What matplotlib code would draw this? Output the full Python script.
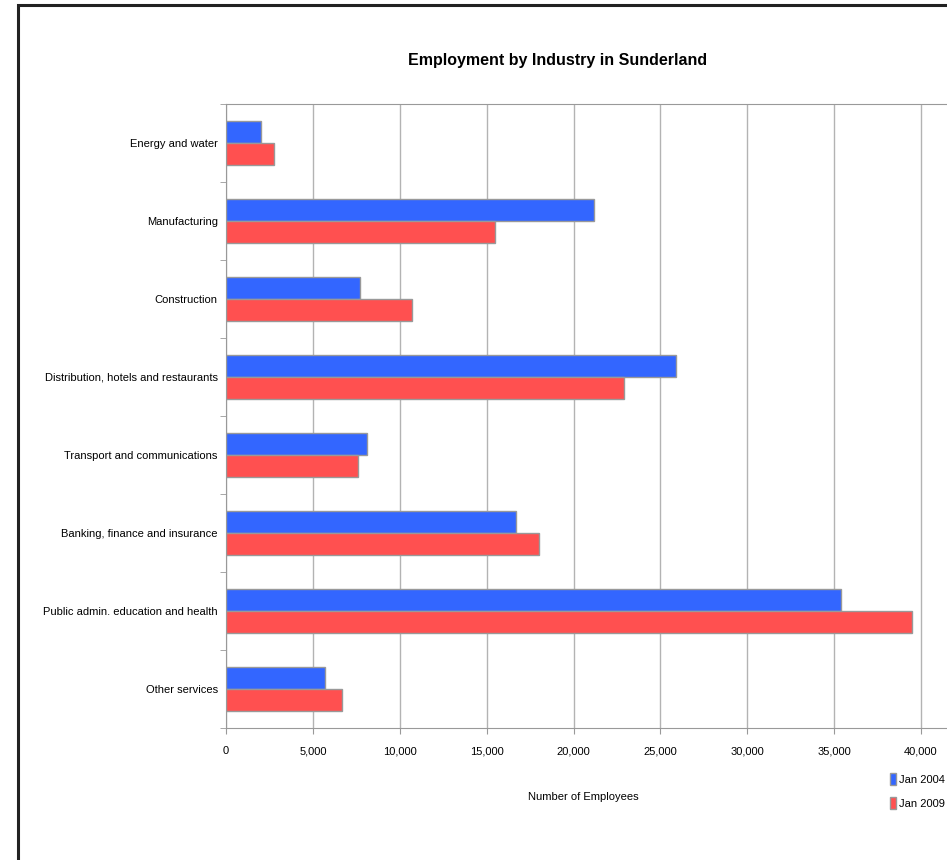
import numpy as np
import matplotlib
matplotlib.use('Agg')
from matplotlib import pyplot as plt
from matplotlib.patches import Patch, Rectangle

plt.rcParams['font.family'] = ['Liberation Sans', 'DejaVu Sans']

# data
industries = ['Energy and water', 'Manufacturing', 'Construction',
              'Distribution, hotels and restaurants', 'Transport and communications',
              'Banking, finance and insurance', 'Public admin. education and health',
              'Other services']
jan_2004 = [2000, 21200, 7700, 25900, 8100, 16700, 35400, 5700]
jan_2009 = [2750, 15500, 10700, 22900, 7600, 18000, 39500, 6700]
series_names = ['Jan 2004', 'Jan 2009']
xticks = [0, 5000, 10000, 15000, 20000, 25000, 30000, 35000, 40000]

blue = '#3366FF'
red = '#FF5050'
grey = '#999999'
fs = 8

W, H = 947, 860
fig = plt.figure(figsize=(W / 100, H / 100), dpi=100)

# outer frame (runs off the right and bottom edges)
fig.patches.append(Rectangle((18 / W, -0.05), 1.1, 1 - 5 / H + 0.05,
                             transform=fig.transFigure, fill=False,
                             edgecolor='#222222', linewidth=2.2))

left, right, top, bottom = 226, 960, 104, 728
ax = fig.add_axes([left / W, 1 - bottom / H, (right - left) / W, (bottom - top) / H])

px_per_unit = 695 / 40000
ax.set_xlim(0, (right - left) / px_per_unit)

n = len(industries)
y = np.arange(n)
h = 0.28
ax.barh(y - h / 2, jan_2004, height=h, color=blue, edgecolor=grey, linewidth=1, zorder=3)
ax.barh(y + h / 2, jan_2009, height=h, color=red, edgecolor=grey, linewidth=1, zorder=3)
ax.set_ylim(n - 0.5, -0.5)

ax.set_yticks(y)
ax.set_yticklabels(industries, fontsize=fs)
ax.set_yticks(np.arange(n + 1) - 0.5, minor=True)
ax.tick_params(axis='y', which='major', length=0, pad=6)
ax.tick_params(axis='y', which='minor', length=4, color=grey)

ax.set_xticks(xticks)
ax.set_xticklabels(['{:,}'.format(v) for v in xticks], fontsize=fs)
ax.tick_params(axis='x', length=4, color=grey, pad=9)
ax.grid(axis='x', color='#b3b3b3', linewidth=1, zorder=0)

for s in ['top', 'bottom', 'left']:
    ax.spines[s].set_color(grey)
ax.spines['right'].set_visible(False)

fig.text(558 / W, 1 - 60 / H, 'Employment by Industry in Sunderland',
         ha='center', va='center', fontsize=11.5, fontweight='bold')
fig.text(583 / W, 1 - 797 / H, 'Number of Employees', ha='center', va='center', fontsize=fs)

handles = [Patch(facecolor=blue, edgecolor=grey), Patch(facecolor=red, edgecolor=grey)]
fig.legend(handles, series_names, loc='center left',
           bbox_to_anchor=(890 / W, 1 - 791 / H), frameon=False, fontsize=fs,
           handlelength=0.55, handleheight=1.2, handletextpad=0.25, labelspacing=1.1,
           borderpad=0, borderaxespad=0)

fig.savefig('out.png', dpi=100)
